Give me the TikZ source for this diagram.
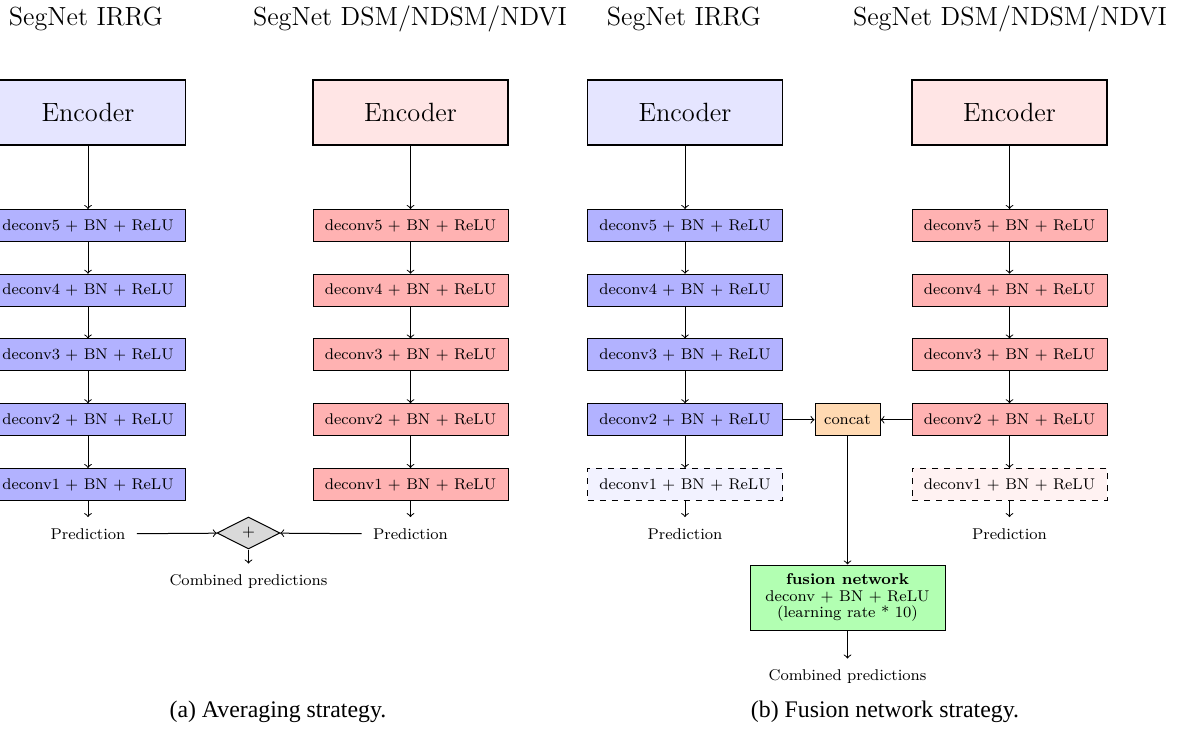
\documentclass[tikz,border=0pt]{standalone}
\usepackage{fontspec}
\newfontfamily\capfont{LiberationSerif}[Extension=.ttf, UprightFont=*-Regular, BoldFont=*-Bold]
\usetikzlibrary{shapes.geometric}
\tikzset{
  box/.style={draw, line width=0.5pt, minimum width=97.5pt, minimum height=16pt, inner sep=0pt, font=\fontsize{7.75}{9}\selectfont},
  bdec/.style={box, fill=blue!30},
  rdec/.style={box, fill=red!30},
  bdash/.style={box, dashed, fill=blue!5},
  rdash/.style={box, dashed, fill=red!5},
  enc/.style={draw, line width=0.6pt, minimum width=97.5pt, minimum height=32.5pt, font=\fontsize{13.2}{15}\selectfont},
  benc/.style={enc, fill=blue!10},
  renc/.style={enc, fill=red!10},
  lbl/.style={inner sep=5.5pt, font=\fontsize{7.8}{9}\selectfont},
  ttl/.style={inner sep=0pt, font=\fontsize{13.1}{15}\selectfont},
  captext/.style={inner sep=0pt, font=\capfont\fontsize{11.9}{13}\selectfont},
  arr/.style={->, line width=0.5pt},
  sumnode/.style={diamond, draw, line width=0.5pt, fill=gray!30, minimum width=31.5pt, minimum height=16pt, inner sep=0pt, font=\fontsize{7.8}{9}\selectfont},
  concatbox/.style={box, fill=orange!30, minimum width=32.5pt},
  fusionbox/.style={draw, line width=0.5pt, fill=green!30, minimum width=97.5pt, minimum height=32.5pt, inner sep=0pt, align=center, font=\fontsize{7.8}{8.2}\selectfont}
}
\begin{document}
\begin{tikzpicture}[x=0.5pt,y=-0.5pt]
\useasboundingbox (0,0) rectangle (1188,742);
% ---------- (a) ----------
\node[ttl] (ta1) at (86,19) {SegNet IRRG};
\node[ttl] (ta2) at (410,19) {SegNet DSM/NDSM/NDVI};
\node[benc] (aeb) at (88,112.5) {Encoder};
\node[renc] (aer) at (410.5,112.5) {Encoder};
\node[bdec] (ab5) at (88,225.5) {deconv5 + BN + ReLU};
\node[bdec] (ab4) at (88,290.25) {deconv4 + BN + ReLU};
\node[bdec] (ab3) at (88,355) {deconv3 + BN + ReLU};
\node[bdec] (ab2) at (88,419.75) {deconv2 + BN + ReLU};
\node[bdec] (ab1) at (88,484.5) {deconv1 + BN + ReLU};
\node[rdec] (ar5) at (410.5,225.5) {deconv5 + BN + ReLU};
\node[rdec] (ar4) at (410.5,290.25) {deconv4 + BN + ReLU};
\node[rdec] (ar3) at (410.5,355) {deconv3 + BN + ReLU};
\node[rdec] (ar2) at (410.5,419.75) {deconv2 + BN + ReLU};
\node[rdec] (ar1) at (410.5,484.5) {deconv1 + BN + ReLU};
\node[lbl] (apb) at (88,534) {Prediction};
\node[lbl] (apr) at (410.5,534) {Prediction};
\node[sumnode] (asum) at (248.5,533) {+};
\node[lbl] (acomb) at (248.5,582) {Combined predictions};
\draw[arr] (aeb) -- (ab5);
\draw[arr] (ab5) -- (ab4);
\draw[arr] (ab4) -- (ab3);
\draw[arr] (ab3) -- (ab2);
\draw[arr] (ab2) -- (ab1);
\draw[arr] (ab1) -- (apb);
\draw[arr] (aer) -- (ar5);
\draw[arr] (ar5) -- (ar4);
\draw[arr] (ar4) -- (ar3);
\draw[arr] (ar3) -- (ar2);
\draw[arr] (ar2) -- (ar1);
\draw[arr] (ar1) -- (apr);
\draw[arr] (apb) -- (asum);
\draw[arr] (apr) -- (asum);
\draw[arr] (asum) -- (acomb);
\node[captext] (capa) at (278,712) {(a) Averaging strategy.};
% ---------- (b) ----------
\node[ttl] (tb1) at (684,19) {SegNet IRRG};
\node[ttl] (tb2) at (1010,19) {SegNet DSM/NDSM/NDVI};
\node[benc] (beb) at (685,112.5) {Encoder};
\node[renc] (ber) at (1009.5,112.5) {Encoder};
\node[bdec] (bb5) at (685,225.5) {deconv5 + BN + ReLU};
\node[bdec] (bb4) at (685,290.25) {deconv4 + BN + ReLU};
\node[bdec] (bb3) at (685,355) {deconv3 + BN + ReLU};
\node[bdec] (bb2) at (685,419.75) {deconv2 + BN + ReLU};
\node[bdash] (bb1) at (685,484.5) {deconv1 + BN + ReLU};
\node[rdec] (br5) at (1009.5,225.5) {deconv5 + BN + ReLU};
\node[rdec] (br4) at (1009.5,290.25) {deconv4 + BN + ReLU};
\node[rdec] (br3) at (1009.5,355) {deconv3 + BN + ReLU};
\node[rdec] (br2) at (1009.5,419.75) {deconv2 + BN + ReLU};
\node[rdash] (br1) at (1009.5,484.5) {deconv1 + BN + ReLU};
\node[lbl] (bpb) at (685,534) {Prediction};
\node[lbl] (bpr) at (1009.5,534) {Prediction};
\node[concatbox] (bcat) at (847.5,419.75) {concat};
\node[fusionbox] (bfus) at (847.5,597.5) {\textbf{fusion network}\\deconv + BN + ReLU\\(learning rate * 10)};
\node[lbl] (bcomb) at (847.5,677) {Combined predictions};
\draw[arr] (beb) -- (bb5);
\draw[arr] (bb5) -- (bb4);
\draw[arr] (bb4) -- (bb3);
\draw[arr] (bb3) -- (bb2);
\draw[arr] (bb2) -- (bb1);
\draw[arr] (bb1) -- (bpb);
\draw[arr] (ber) -- (br5);
\draw[arr] (br5) -- (br4);
\draw[arr] (br4) -- (br3);
\draw[arr] (br3) -- (br2);
\draw[arr] (br2) -- (br1);
\draw[arr] (br1) -- (bpr);
\draw[arr] (bb2) -- (bcat);
\draw[arr] (br2) -- (bcat);
\draw[arr] (bcat) -- (bfus);
\draw[arr] (bfus) -- (bcomb);
\node[captext] (capb) at (885,712) {(b) Fusion network strategy.};
\end{tikzpicture}
\end{document}
